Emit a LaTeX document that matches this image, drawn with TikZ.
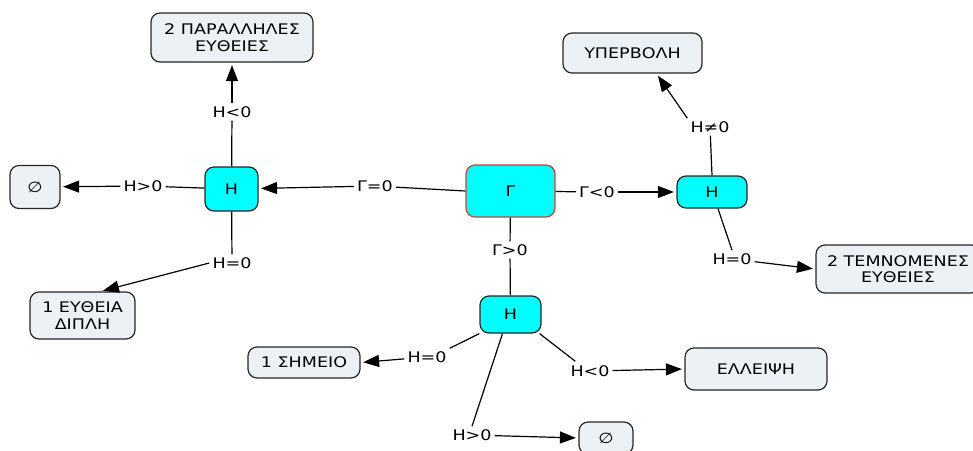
\documentclass[tikz,border=0pt]{standalone}
\usepackage{fontspec}
\setmainfont[FakeStretch=1.2]{DejaVu Sans}
\usetikzlibrary{arrows.meta}
\definecolor{boxgrey}{HTML}{EBF1F4}
\definecolor{cyanfill}{HTML}{00FFFF}
\definecolor{redborder}{HTML}{C8413B}
\begin{document}
\begin{tikzpicture}[x=1pt,y=-1pt,
  box/.style={draw=black!85,line width=1.2pt,rounded corners=9pt,fill=boxgrey,align=center,
    font=\fontsize{14.6}{16.5}\selectfont,inner sep=0pt},
  hbox/.style={box,fill=cyanfill},
  lbl/.style={font=\fontsize{14.6}{16}\selectfont,inner sep=3pt},
  conn/.style={line width=1.2pt,black},
  arr/.style={conn,-{Triangle[length=16pt,width=12pt]},shorten >=2.5pt}]
\useasboundingbox (0,0) rectangle (973,450);
\begin{scope}
\clip (0,0) rectangle (973,450);
% boxes
\node[box,minimum width=162pt,minimum height=49pt] (par) at (232,37.5) {2 ΠΑΡΑΛΛΗΛΕΣ\\ΕΥΘΕΙΕΣ};
\node[hbox,minimum width=53pt,minimum height=44pt] (h1) at (231.5,189) {Η};
\node[box,minimum width=50pt,minimum height=43pt] (e1) at (35,187) {∅};
\node[hbox,draw=redborder,minimum width=89pt,minimum height=52pt] (g) at (510.5,191) {Γ};
\node[hbox,minimum width=70pt,minimum height=32pt] (h2) at (712,192) {Η};
\node[hbox,minimum width=61pt,minimum height=37pt] (h3) at (510.5,314.5) {Η};
\node[box,minimum width=139pt,minimum height=40pt] (yp) at (632.5,53) {ΥΠΕΡΒΟΛΗ};
\node[box,minimum width=164pt,minimum height=48pt] (tem) at (898,269) {2 ΤΕΜΝΟΜΕΝΕΣ\\ΕΥΘΕΙΕΣ};
\node[box,minimum width=142pt,minimum height=42pt] (ell) at (756,369) {ΕΛΛΕΙΨΗ};
\node[box,minimum width=54pt,minimum height=32pt] (e2) at (606,438) {∅};
\node[box,minimum width=112pt,minimum height=31pt] (shm) at (304,362.5) {1 ΣΗΜΕΙΟ};
\node[box,minimum width=105pt,minimum height=47pt] (eyt) at (82.5,315.5) {1 ΕΥΘΕΙΑ\\ΔΙΠΛΗ};
% labels
\node[lbl] (l1) at (232,112) {Η<0};
\node[lbl] (l2) at (143,186) {Η>0};
\node[lbl] (l3) at (375,186) {Γ=0};
\node[lbl] (l4) at (232,263) {Η=0};
\node[lbl] (l5) at (597,192) {Γ<0};
\node[lbl] (l6) at (510,250) {Γ>0};
\node[lbl] (l7) at (710,127) {Η≠0};
\node[lbl] (l8) at (732,259) {Η=0};
\node[lbl] (l9) at (427,357) {Η=0};
\node[lbl] (l10) at (590,371) {Η<0};
\node[lbl] (l11) at (472,435) {Η>0};
% connectors
\draw[conn] (h1) -- (l1);
\draw[arr] (l1) -- (par);
\draw[conn] (h1) -- (l2);
\draw[arr] (l2) -- (e1);
\draw[conn] (g.west) -- (l3);
\draw[arr] (l3) -- (h1);
\draw[conn] (h1) -- (l4);
\draw[arr] (l4.west) -- ([xshift=18pt]eyt.north);
\draw[conn] (g) -- (l5);
\draw[arr] (l5) -- (h2);
\draw[conn] (g) -- (l6);
\draw[conn] (l6) -- (h3);
\draw[conn] (h2.north) -- (l7);
\draw[arr] (l7.north west) -- ([xshift=24pt]yp.south);
\draw[conn] ([xshift=6pt]h2.south) -- (l8.north);
\draw[arr] (l8) -- (tem.west);
\draw[conn] (h3.south west) -- (l9.north east);
\draw[arr] (l9) -- (shm.east);
\draw[conn] ([xshift=-2pt]h3.south east) -- ([xshift=8pt,yshift=1pt]l10.north west);
\draw[arr] (l10) -- (ell.west);
\draw[conn] ([xshift=-8pt]h3.south) -- (l11.north);
\draw[arr] (l11) -- (e2.west);
\end{scope}
\end{tikzpicture}
\end{document}
